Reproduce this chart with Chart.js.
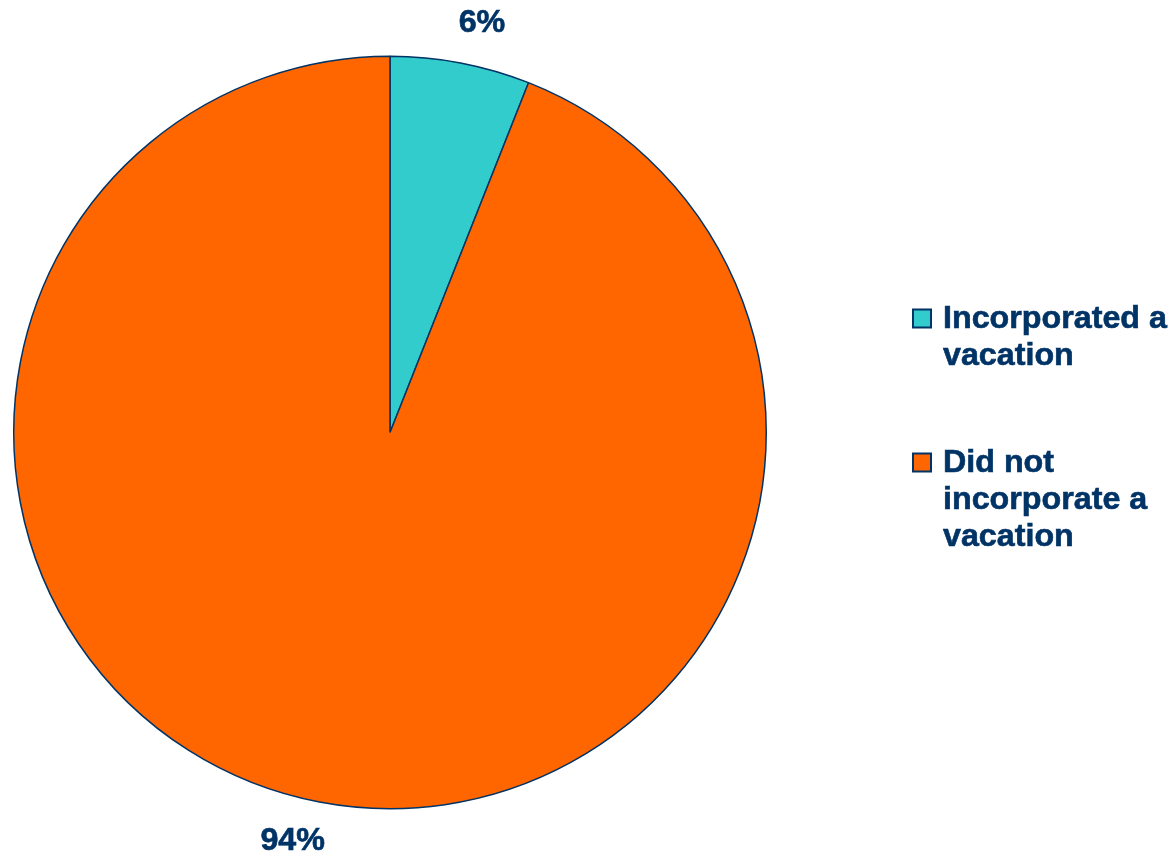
<!DOCTYPE html>
<html>
<head>
<meta charset="utf-8">
<title>Vacation</title>
<script src="https://cdn.jsdelivr.net/npm/chart.js@4/dist/chart.umd.min.js"></script>
<style>
  html, body { margin: 0; padding: 0; background: #fff; }
  #wrap { width: 1170px; height: 860px; }
</style>
</head>
<body>
<div id="wrap"><canvas id="pie" width="1170" height="860"></canvas></div>
<script>
const categories = [
    ['Incorporated a', 'vacation'],
    ['Did not', 'incorporate a', 'vacation']
];
const shares = [6, 94];
const sliceColors = ['#33CCCC', '#FF6600'];

const NAVY = '#003366';
const FONT = 'bold 31px "Liberation Sans", Arial, sans-serif';
const STRETCH = 1.04;

// draw text slightly widened and a touch heavier
function wideText(ctx, text, x, y) {
    ctx.save();
    ctx.translate(x, y);
    ctx.scale(STRETCH, 1);
    ctx.fillText(text, 0, 0);
    ctx.lineWidth = 0.6;
    ctx.strokeStyle = NAVY;
    ctx.strokeText(text, 0, 0);
    ctx.restore();
}

// percent labels just outside each slice
const sliceLabels = {
    id: 'sliceLabels',
    afterDatasetsDraw(chart) {
        const ctx = chart.ctx;
        const meta = chart.getDatasetMeta(0);
        ctx.save();
        ctx.font = FONT;
        ctx.fillStyle = NAVY;
        ctx.textAlign = 'center';
        ctx.textBaseline = 'middle';
        meta.data.forEach((arc, i) => {
            const p = arc.getProps(['x', 'y', 'startAngle', 'endAngle', 'outerRadius'], true);
            const mid = (p.startAngle + p.endAngle) / 2;
            const r = p.outerRadius + 40;
            const text = shares[i] + '%';
            const w = ctx.measureText(text).width * STRETCH;
            const dir = Math.cos(mid) >= 0 ? 1 : -1;
            const x = p.x + Math.cos(mid) * r + dir * w * 0.3;
            const y = p.y + Math.sin(mid) * r;
            wideText(ctx, text, x, y);
        });
        ctx.restore();
    }
};

// legend on the right with wrapped labels
const sideLegend = {
    id: 'sideLegend',
    afterDraw(chart) {
        const ctx = chart.ctx;
        const area = chart.chartArea;
        const lineH = 37;
        const gap = 107;
        const boxX = 913, box = 18, textX = 943;
        let lines = 0;
        categories.forEach(c => lines += c.length);
        const span = (lines - categories.length) * lineH + (categories.length - 1) * gap;
        let y = (area.top + area.bottom) / 2 - 5 - span / 2;
        ctx.save();
        ctx.font = FONT;
        ctx.textBaseline = 'middle';
        ctx.textAlign = 'left';
        categories.forEach((label, i) => {
            ctx.fillStyle = sliceColors[i];
            ctx.fillRect(boxX, y - box / 2, box, box);
            ctx.lineWidth = 2;
            ctx.strokeStyle = NAVY;
            ctx.strokeRect(boxX, y - box / 2, box, box);
            ctx.fillStyle = NAVY;
            label.forEach((line, j) => {
                wideText(ctx, line, textX, y + j * lineH + 1);
            });
            y += (label.length - 1) * lineH + gap;
        });
        ctx.restore();
    }
};

new Chart(document.getElementById('pie').getContext('2d'), {
    type: 'pie',
    data: {
        labels: categories.map(c => c.join(' ')),
        datasets: [{
            data: shares,
            backgroundColor: sliceColors,
            borderColor: NAVY,
            borderWidth: 1.5
        }]
    },
    options: {
        responsive: false,
        animation: false,
        layout: { padding: { left: 13, right: 403, top: 55, bottom: 50 } },
        plugins: {
            legend: { display: false },
            tooltip: { enabled: false }
        }
    },
    plugins: [sliceLabels, sideLegend]
});
</script>
</body>
</html>
